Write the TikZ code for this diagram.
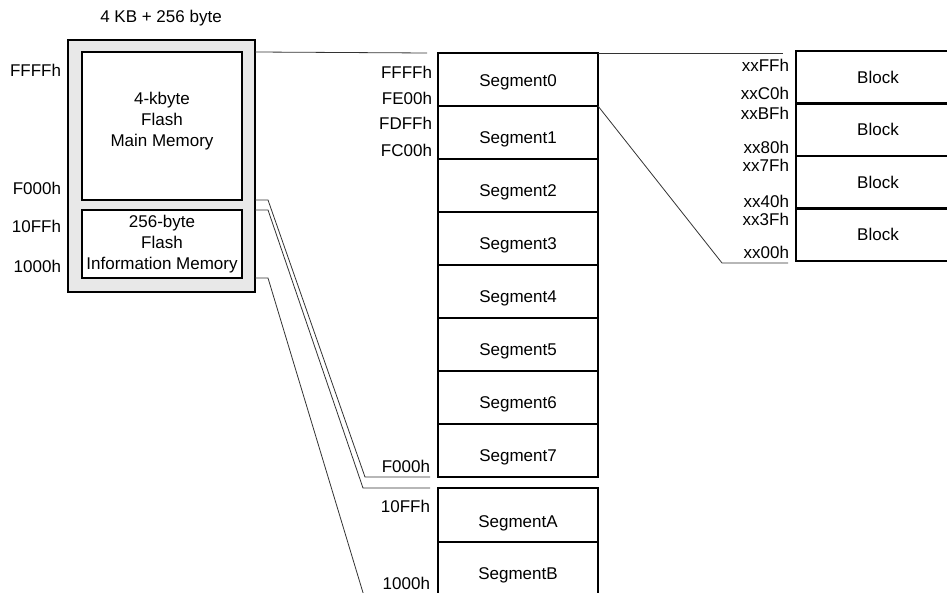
\documentclass[tikz,border=0pt]{standalone}
\usepackage{fontspec}
\setmainfont{Liberation Sans}
\definecolor{chipgray}{RGB}{232,232,232}
\begin{document}
\begin{tikzpicture}[x=1pt,y=-1pt,
	every node/.style={font=\fontsize{17}{21}\selectfont, inner sep=0pt, outer sep=0pt},
	membox/.style={draw, line width=2.5pt},
	segbox/.style={membox, minimum width=160pt, minimum height=53pt},
	blkbox/.style={membox, minimum width=164pt, minimum height=52.5pt},
	addr/.style={anchor=east},
	link/.style={line width=0.8pt, black!80}]
	\useasboundingbox (0,0) rectangle (947,593);
	\clip (0,0) rectangle (947,593);

	\node (title) at (161,18) {4 KB + 256 byte};
	\node[membox, fill=chipgray, minimum width=187pt, minimum height=252pt] (chip) at (161.5,166) {};
	\node[membox, fill=white, minimum width=160pt, minimum height=148pt] (main) at (162,126) {};
	\node[align=center] (maintxt) at (162,121) {4-kbyte\\Flash\\Main Memory};
	\node[membox, fill=white, minimum width=160pt, minimum height=68pt, align=center] (info) at (162,244) {256-byte\\Flash\\Information Memory};

	\node[addr] (mFFFF) at (61,70) {FFFFh};
	\node[addr] (mF000) at (61,188) {F000h};
	\node[addr] (m10FF) at (61,226) {10FFh};
	\node[addr] (m1000) at (61,266) {1000h};

	\foreach \i/\dy in {0/3,1/7,2/7,3/7,4/7,5/7,6/7,7/7} {
		\node[segbox] (seg\i) at (518,79.5+53*\i) {};
		\node (segtxt\i) at ([yshift=-\dy pt]seg\i.center) {Segment\i};
	}
	\node[segbox, minimum height=54pt] (segA) at (518,515) {};
	\node (segtxtA) at ([yshift=-8pt]segA.center) {SegmentA};
	\node[segbox, minimum height=54pt] (segB) at (518,569) {};
	\node (segtxtB) at ([yshift=-6pt]segB.center) {SegmentB};

	\node[addr] (sFFFF) at (432,72) {FFFFh};
	\node[addr] (sFE00) at (432,98) {FE00h};
	\node[addr] (sFDFF) at (432,123) {FDFFh};
	\node[addr] (sFC00) at (432,150) {FC00h};
	\node[addr] (sF000) at (430,466) {F000h};
	\node[addr] (s10FF) at (430,506) {10FFh};
	\node[addr] (s1000) at (430,583) {1000h};

	\foreach \i in {0,...,3}
		\node[blkbox] (blk\i) at (878,77.25+52.5*\i) {Block};

	\node[addr] (bFF) at (789,65) {xxFFh};
	\node[addr] (bC0) at (789,93) {xxC0h};
	\node[addr] (bBF) at (789,113) {xxBFh};
	\node[addr] (b80) at (789,147) {xx80h};
	\node[addr] (b7F) at (789,165) {xx7Fh};
	\node[addr] (b40) at (789,201) {xx40h};
	\node[addr] (b3F) at (789,219) {xx3Fh};
	\node[addr] (b00) at (789,252) {xx00h};

	\coordinate (l1end) at ([xshift=-11pt]seg0.north west);
	\coordinate (l2end) at ([xshift=-8pt]seg7.south west);
	\coordinate (l3end) at ([xshift=-8pt]segA.north west);
	\coordinate (l4end) at ([xshift=-8pt]segB.south west);
	\coordinate (r1end) at (783,53);
	\coordinate (r2end) at (788,263);

	\draw[link] (chip.east |- main.north) -- (l1end);
	\draw[link] (chip.east |- main.south) -- ++(13,0) -- ([xshift=-65pt]l2end) -- (l2end);
	\draw[link] (chip.east |- info.north) -- ++(13,0) -- ([xshift=-67pt]l3end) -- (l3end);
	\draw[link] (chip.east |- info.south) -- ++(13,0) -- ([xshift=-66pt]l4end) -- (l4end);
	\draw[link] (seg0.north east) -- (r1end);
	\draw[link] (seg0.south east) -- ([xshift=-66pt]r2end) -- (r2end);
\end{tikzpicture}
\end{document}
